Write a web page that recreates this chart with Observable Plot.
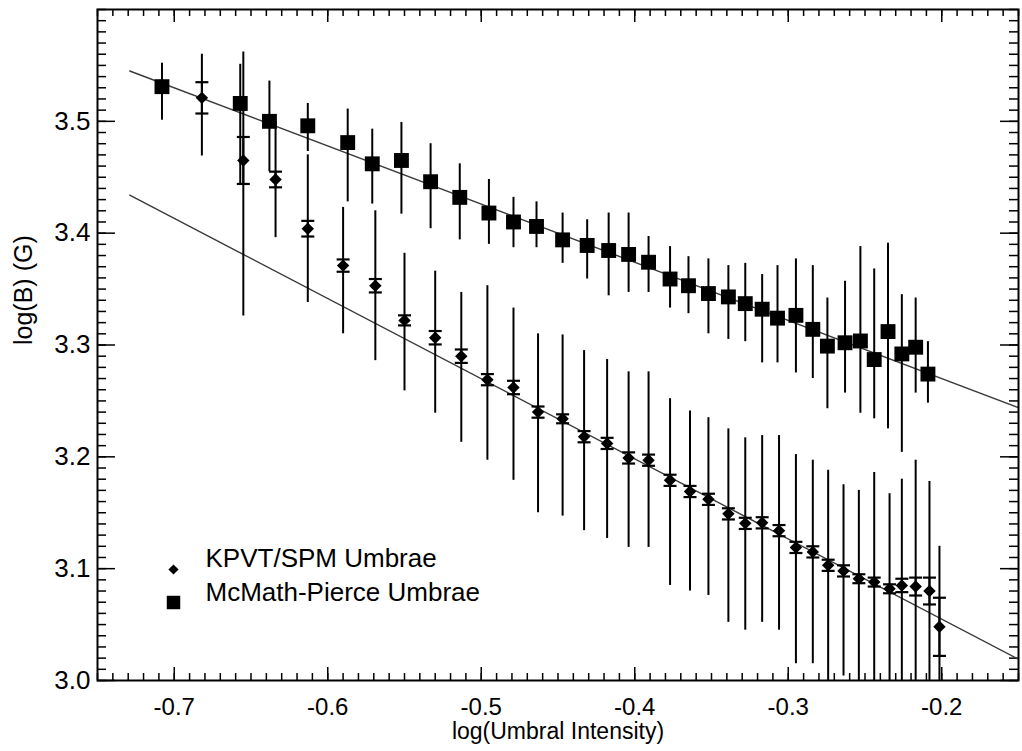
<!DOCTYPE html>
<html>
<head>
<meta charset="utf-8">
<script src="https://cdn.jsdelivr.net/npm/d3@7"></script>
<script src="https://cdn.jsdelivr.net/npm/@observablehq/plot@0.6"></script>
<style>
  html, body { margin: 0; padding: 0; background: #fff; }
  #chart { width: 1022px; height: 751px; }
</style>
</head>
<body>
<div id="chart"></div>
<script>
// ---- KPVT/SPM Umbrae (diamonds) ----
const kpX   = [-0.682,-0.655,-0.634,-0.613,-0.590,-0.569,-0.550,-0.530,-0.513,-0.496,-0.479,-0.463,-0.447,-0.433,-0.418,-0.404,-0.391,-0.377,-0.364,-0.352,-0.339,-0.328,-0.317,-0.306,-0.295,-0.284,-0.274,-0.264,-0.254,-0.244,-0.234,-0.226,-0.217,-0.208,-0.2015];
const kpY   = [3.521,3.465,3.448,3.404,3.371,3.353,3.322,3.3065,3.290,3.269,3.262,3.240,3.234,3.218,3.212,3.199,3.197,3.179,3.169,3.162,3.149,3.1405,3.141,3.134,3.119,3.115,3.103,3.098,3.091,3.088,3.082,3.085,3.084,3.080,3.048];
const kpErr = [0.014,0.021,0.007,0.007,0.0055,0.006,0.0045,0.006,0.006,0.005,0.006,0.005,0.004,0.005,0.005,0.005,0.005,0.005,0.005,0.005,0.005,0.005,0.005,0.005,0.005,0.005,0.005,0.005,0.004,0.004,0.004,0.006,0.008,0.012,0.026];
const kpLo  = [3.469,3.326,3.396,3.338,3.310,3.286,3.259,3.239,3.213,3.197,3.179,3.150,3.147,3.134,3.127,3.119,3.119,3.085,3.080,3.076,3.052,3.045,3.052,3.045,3.015,3.015,2.980,3.004,2.990,2.990,2.990,2.990,2.970,2.980,2.980];
const kpHi  = [3.560,3.562,3.500,3.470,3.423,3.420,3.382,3.366,3.347,3.353,3.333,3.310,3.309,3.295,3.287,3.276,3.276,3.252,3.241,3.235,3.225,3.217,3.219,3.219,3.202,3.197,3.188,3.175,3.170,3.186,3.167,3.180,3.197,3.178,3.120];

// ---- McMath-Pierce Umbrae (squares) ----
const mpX  = [-0.708,-0.657,-0.638,-0.613,-0.587,-0.571,-0.552,-0.533,-0.514,-0.495,-0.479,-0.464,-0.447,-0.431,-0.417,-0.404,-0.391,-0.377,-0.365,-0.352,-0.339,-0.328,-0.317,-0.307,-0.295,-0.284,-0.2745,-0.263,-0.253,-0.244,-0.235,-0.226,-0.217,-0.209];
const mpY  = [3.531,3.516,3.500,3.496,3.481,3.462,3.465,3.446,3.432,3.418,3.410,3.406,3.394,3.389,3.3845,3.381,3.374,3.359,3.353,3.346,3.343,3.337,3.332,3.324,3.3265,3.314,3.299,3.302,3.3036,3.287,3.312,3.292,3.298,3.274];
const mpLo = [3.501,3.444,3.455,3.473,3.428,3.426,3.417,3.404,3.394,3.390,3.387,3.387,3.373,3.359,3.344,3.347,3.347,3.333,3.328,3.310,3.305,3.303,3.284,3.284,3.275,3.270,3.243,3.257,3.239,3.234,3.225,3.204,3.257,3.248];
const mpHi = [3.552,3.551,3.536,3.516,3.511,3.493,3.499,3.480,3.462,3.448,3.432,3.428,3.418,3.412,3.418,3.418,3.397,3.388,3.379,3.377,3.371,3.373,3.363,3.371,3.377,3.371,3.342,3.357,3.388,3.368,3.391,3.345,3.342,3.303];

// ---- Fit lines ----
const fitX      = [-0.729, -0.150];
const fitUpperY = [3.545, 3.244];
const fitLowerY = [3.434, 3.019];

// ---- Axes ----
const xDomain = [-0.75, -0.15];
const yDomain = [3.0, 3.6];
const xMajor = [-0.7, -0.6, -0.5, -0.4, -0.3, -0.2];
const yMajor = [3.0, 3.1, 3.2, 3.3, 3.4, 3.5];
const xMinor = d3.range(-75, -14).map(i => i / 100);
const yMinor = d3.range(300, 361).map(i => i / 100);

const xLabel = "log(Umbral Intensity)";
const yLabel = "log(B) (G)";
const legendLabels = ["KPVT/SPM Umbrae", "McMath-Pierce Umbrae"];

// build tables
const kp = kpX.map((x, i) => ({x, y: kpY[i], e: kpErr[i], lo: kpLo[i], hi: kpHi[i]}));
const mp = mpX.map((x, i) => ({x, y: mpY[i], lo: mpLo[i], hi: mpHi[i]}));
const fitU = fitX.map((x, i) => ({x, y: fitUpperY[i]}));
const fitL = fitX.map((x, i) => ({x, y: fitLowerY[i]}));

const W = 1022, H = 751;
const mL = 97, mR = 4, mT = 9, mB = 71;
const iW = W - mL - mR, iH = H - mT - mB;

const capSymbol = {
  draw(ctx, size) {
    const r = Math.sqrt(size / Math.PI);
    ctx.moveTo(-r, 0);
    ctx.lineTo(r, 0);
  }
};

const font = "'Liberation Sans', Arial, Helvetica, sans-serif";
const fmt = d => d.toFixed(1);

const chart = Plot.plot({
  width: W, height: H,
  marginLeft: mL, marginRight: mR, marginTop: mT, marginBottom: mB,
  style: {fontFamily: font, fontSize: "25px", background: "#fff", color: "#000"},
  x: {domain: xDomain},
  y: {domain: yDomain},
  marks: [
    // axis labels (ticks drawn inside separately)
    Plot.axisX({ticks: xMajor, tickSize: 0, tickPadding: 17, tickFormat: fmt, label: null, fontSize: 24}),
    Plot.axisY({ticks: yMajor, tickSize: 0, tickPadding: 7, tickFormat: fmt, label: null, fontSize: 26}),
    // inward ticks, bottom & top
    Plot.tickX(xMinor, {x: d => d, insetTop: iH - 7, stroke: "#000", strokeWidth: 1.5}),
    Plot.tickX(xMajor, {x: d => d, insetTop: iH - 13, stroke: "#000", strokeWidth: 1.5}),
    Plot.tickX(xMinor, {x: d => d, insetBottom: iH - 7, stroke: "#000", strokeWidth: 1.5}),
    Plot.tickX(xMajor, {x: d => d, insetBottom: iH - 13, stroke: "#000", strokeWidth: 1.5}),
    // inward ticks, left & right
    Plot.tickY(yMinor, {y: d => d, insetRight: iW - 9, stroke: "#000", strokeWidth: 1.5}),
    Plot.tickY(yMajor, {y: d => d, insetRight: iW - 18, stroke: "#000", strokeWidth: 1.5}),
    Plot.tickY(yMinor, {y: d => d, insetLeft: iW - 9, stroke: "#000", strokeWidth: 1.5}),
    Plot.tickY(yMajor, {y: d => d, insetLeft: iW - 18, stroke: "#000", strokeWidth: 1.5}),
    // fit lines
    Plot.line(fitU, {x: "x", y: "y", stroke: "#3a3a3a", strokeWidth: 1.4}),
    Plot.line(fitL, {x: "x", y: "y", stroke: "#3a3a3a", strokeWidth: 1.4}),
    // McMath-Pierce error bars
    Plot.ruleX(mp, {x: "x", y1: "lo", y2: "hi", stroke: "#000", strokeWidth: 2, clip: true}),
    // KPVT spread bars
    Plot.ruleX(kp, {x: "x", y1: "lo", y2: "hi", stroke: "#000", strokeWidth: 2, clip: true}),
    // KPVT error-of-mean caps
    Plot.ruleX(kp, {x: "x", y1: d => d.y - d.e, y2: d => d.y + d.e, stroke: "#000", strokeWidth: 2}),
    Plot.dot(kp, {x: "x", y: d => d.y - d.e, symbol: capSymbol, r: 6.5, stroke: "#000", fill: "none", strokeWidth: 2.2}),
    Plot.dot(kp, {x: "x", y: d => d.y + d.e, symbol: capSymbol, r: 6.5, stroke: "#000", fill: "none", strokeWidth: 2.2}),
    // markers
    Plot.dot(mp, {x: "x", y: "y", symbol: "square", r: 8.4, fill: "#000", stroke: "none"}),
    Plot.dot(kp, {x: "x", y: "y", symbol: "diamond2", r: 5.6, fill: "#000", stroke: "none"}),
    // legend
    Plot.dot([legendLabels[0]], {frameAnchor: "bottom-left", dx: 76, dy: -111, symbol: "diamond2", r: 4.6, fill: "#000", stroke: "none"}),
    Plot.dot([legendLabels[1]], {frameAnchor: "bottom-left", dx: 76, dy: -78, symbol: "square", r: 7.6, fill: "#000", stroke: "none"}),
    Plot.text([legendLabels[0]], {frameAnchor: "bottom-left", text: d => d, dx: 108, dy: -114, textAnchor: "start", fontSize: 26, fill: "#000"}),
    Plot.text([legendLabels[1]], {frameAnchor: "bottom-left", text: d => d, dx: 108, dy: -80, textAnchor: "start", fontSize: 26, fill: "#000"}),
    // axis titles
    Plot.text([xLabel], {frameAnchor: "bottom", text: d => d, dy: 58, fontSize: 23, fill: "#000"}),
    Plot.text([yLabel], {frameAnchor: "left", text: d => d, dx: -74, rotate: -90, fontSize: 25, fill: "#000"}),
    // frame
    Plot.frame({stroke: "#000", strokeWidth: 2})
  ]
});

document.getElementById("chart").appendChild(chart);
</script>
</body>
</html>
